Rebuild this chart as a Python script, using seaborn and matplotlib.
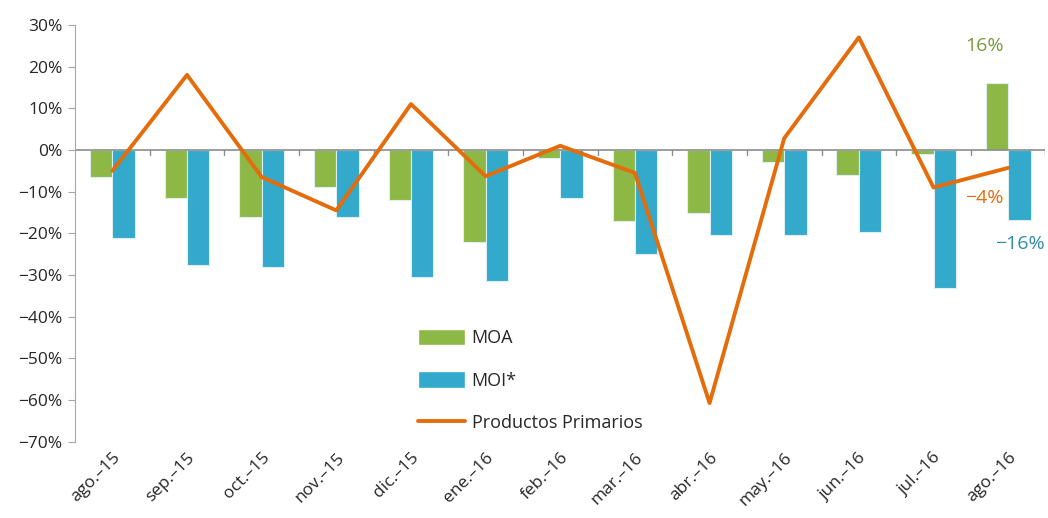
import pandas as pd
import matplotlib
matplotlib.use("Agg")
import matplotlib.pyplot as plt
import seaborn as sns
from matplotlib.ticker import FuncFormatter
from matplotlib.patches import Patch
from matplotlib.lines import Line2D

# data (% change)
months = ['ago.–15', 'sep.–15', 'oct.–15', 'nov.–15', 'dic.–15', 'ene.–16', 'feb.–16',
          'mar.–16', 'abr.–16', 'may.–16', 'jun.–16', 'jul.–16', 'ago.–16']
moa = [-6.5, -11.5, -16, -9, -12, -22, -2, -17, -15, -3, -6, -1, 16]
moi = [-21, -27.5, -28, -16, -30.5, -31.5, -11.5, -25, -20.5, -20.5, -19.7, -33, -16.8]
primarios = [-5, 18, -6.5, -14.5, 11, -6.3, 1, -5.5, -60.7, 2.8, 27, -9, -4.3]

green = '#8DB846'
blue = '#33A9CC'
orange = '#E46C0A'

df_bars = pd.DataFrame({
    'mes': months * 2,
    'valor': moa + moi,
    'serie': ['MOA'] * len(months) + ['MOI*'] * len(months),
})
df_line = pd.DataFrame({'pos': range(len(months)), 'valor': primarios})

sns.set_style('white')
plt.rcParams['font.family'] = ['Open Sans', 'DejaVu Sans']

fig = plt.figure(figsize=(10.48, 5.18), dpi=100)
ax = fig.add_axes([0.0716, 0.147, 0.926, 0.805])

sns.barplot(data=df_bars, x='mes', y='valor', hue='serie', order=months,
            palette=[green, blue], width=0.6, saturation=1, ax=ax,
            edgecolor='#DDEEF2', linewidth=0.8, legend=False)
sns.lineplot(data=df_line, x='pos', y='valor', color=orange, linewidth=2.8, ax=ax,
             legend=False)

ax.set_ylim(-70, 30)
ax.set_xlim(-0.5, len(months) - 0.5)
ax.set_yticks(range(-70, 31, 10))
ax.yaxis.set_major_formatter(FuncFormatter(lambda v, p: f'{v:.0f}%'.replace('-', '−')))
ax.set_xlabel('')
ax.set_ylabel('')

for s in ['top', 'right', 'bottom']:
    ax.spines[s].set_visible(False)
ax.spines['left'].set_color('#A6A6A6')
ax.tick_params(axis='y', left=True, length=5, color='#A6A6A6', labelsize=12.5, pad=4)
ax.tick_params(axis='x', bottom=False, labelsize=12.5, pad=2)
ax.set_xticks(range(len(months)))
ax.set_xticklabels(months, rotation=45, ha='right', rotation_mode='anchor')

# zero line with category separators
ax.axhline(0, color='#8C8C8C', linewidth=1.2, zorder=1)
for b in range(1, len(months) + 1):
    ax.plot([b - 0.5, b - 0.5], [0, -1.2], color='#8C8C8C', linewidth=1, zorder=1)

# end labels
ax.text(11.68, 25, '16%', color='#77993A', fontsize=14, ha='center', va='center')
ax.text(11.68, -11.5, '−4%', color=orange, fontsize=14, ha='center', va='center')
ax.text(12.49, -22.5, '−16%', color='#2E8CA6', fontsize=14, ha='right', va='center')

handles = [Patch(facecolor=green, edgecolor='white', label='MOA'),
           Patch(facecolor=blue, edgecolor='white', label='MOI*'),
           Line2D([], [], color=orange, linewidth=2.8, label='Productos Primarios')]
ax.legend(handles=handles, loc='upper left', bbox_to_anchor=(0.337, 0.31),
          frameon=False, fontsize=13, handlelength=2.6, handleheight=1.0,
          labelspacing=1.35, handletextpad=0.35)

fig.savefig('out.png', dpi=100)
